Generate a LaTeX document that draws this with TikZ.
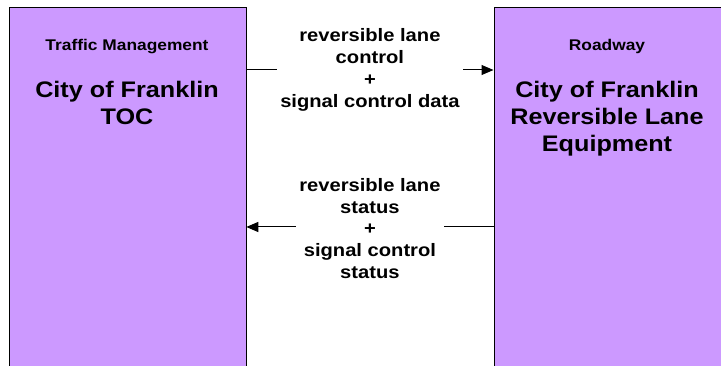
\documentclass[tikz,border=0pt]{standalone}
\usepackage{fontspec}
\setmainfont[FakeStretch=1.12]{Liberation Sans}
\usetikzlibrary{arrows.meta,positioning}
\definecolor{boxpurple}{HTML}{CC99FF}

\begin{document}
\begin{tikzpicture}[x=1pt, y=-1pt,
  sysbox/.style={draw=black, line width=0.8pt, fill=boxpurple, inner sep=0pt,
    minimum width=237pt, minimum height=372pt, anchor=north west},
  cathead/.style={font=\bfseries\fontsize{15.5}{18}\selectfont, anchor=base},
  sysname/.style={font=\bfseries\fontsize{22.5}{26.8}\selectfont, align=center,
    anchor=north, inner sep=0pt},
  flowlbl/.style={font=\bfseries\fontsize{18}{21.8}\selectfont, align=center,
    fill=white, inner xsep=3pt, inner ysep=0pt},
  flow/.style={draw, line width=1pt, -{Triangle[length=12pt,width=10pt]}}]
\useasboundingbox (0,0) rectangle (721,366);
% the two systems
\node[sysbox] (toc) at (8.5,7.5) {};
\node[sysbox] (rle) at (493.5,7.5) {};
\node[cathead] (tochead) at (127,50.3) {Traffic Management};
\node[sysname] (tocname) at (127,81) {City of Franklin\\TOC};
\node[cathead] (rlehead) at (607,50.3) {Roadway};
\node[sysname] (rlename) at (607,81) {City of Franklin\\Reversible Lane\\Equipment};
% flows
\coordinate (fwd) at (0,70);
\coordinate (back) at (0,227);
\draw[flow] (toc.east |- fwd) -- (rle.west |- fwd)
  node[midway, flowlbl] (fwdlbl) {reversible lane\\control\\+\\signal control data};
\draw[flow] (rle.west |- back) -- (toc.east |- back)
  node[midway, flowlbl, yshift=-1.5pt] (backlbl) {reversible lane\\status\\+\\signal control\\status};
\end{tikzpicture}
\end{document}
